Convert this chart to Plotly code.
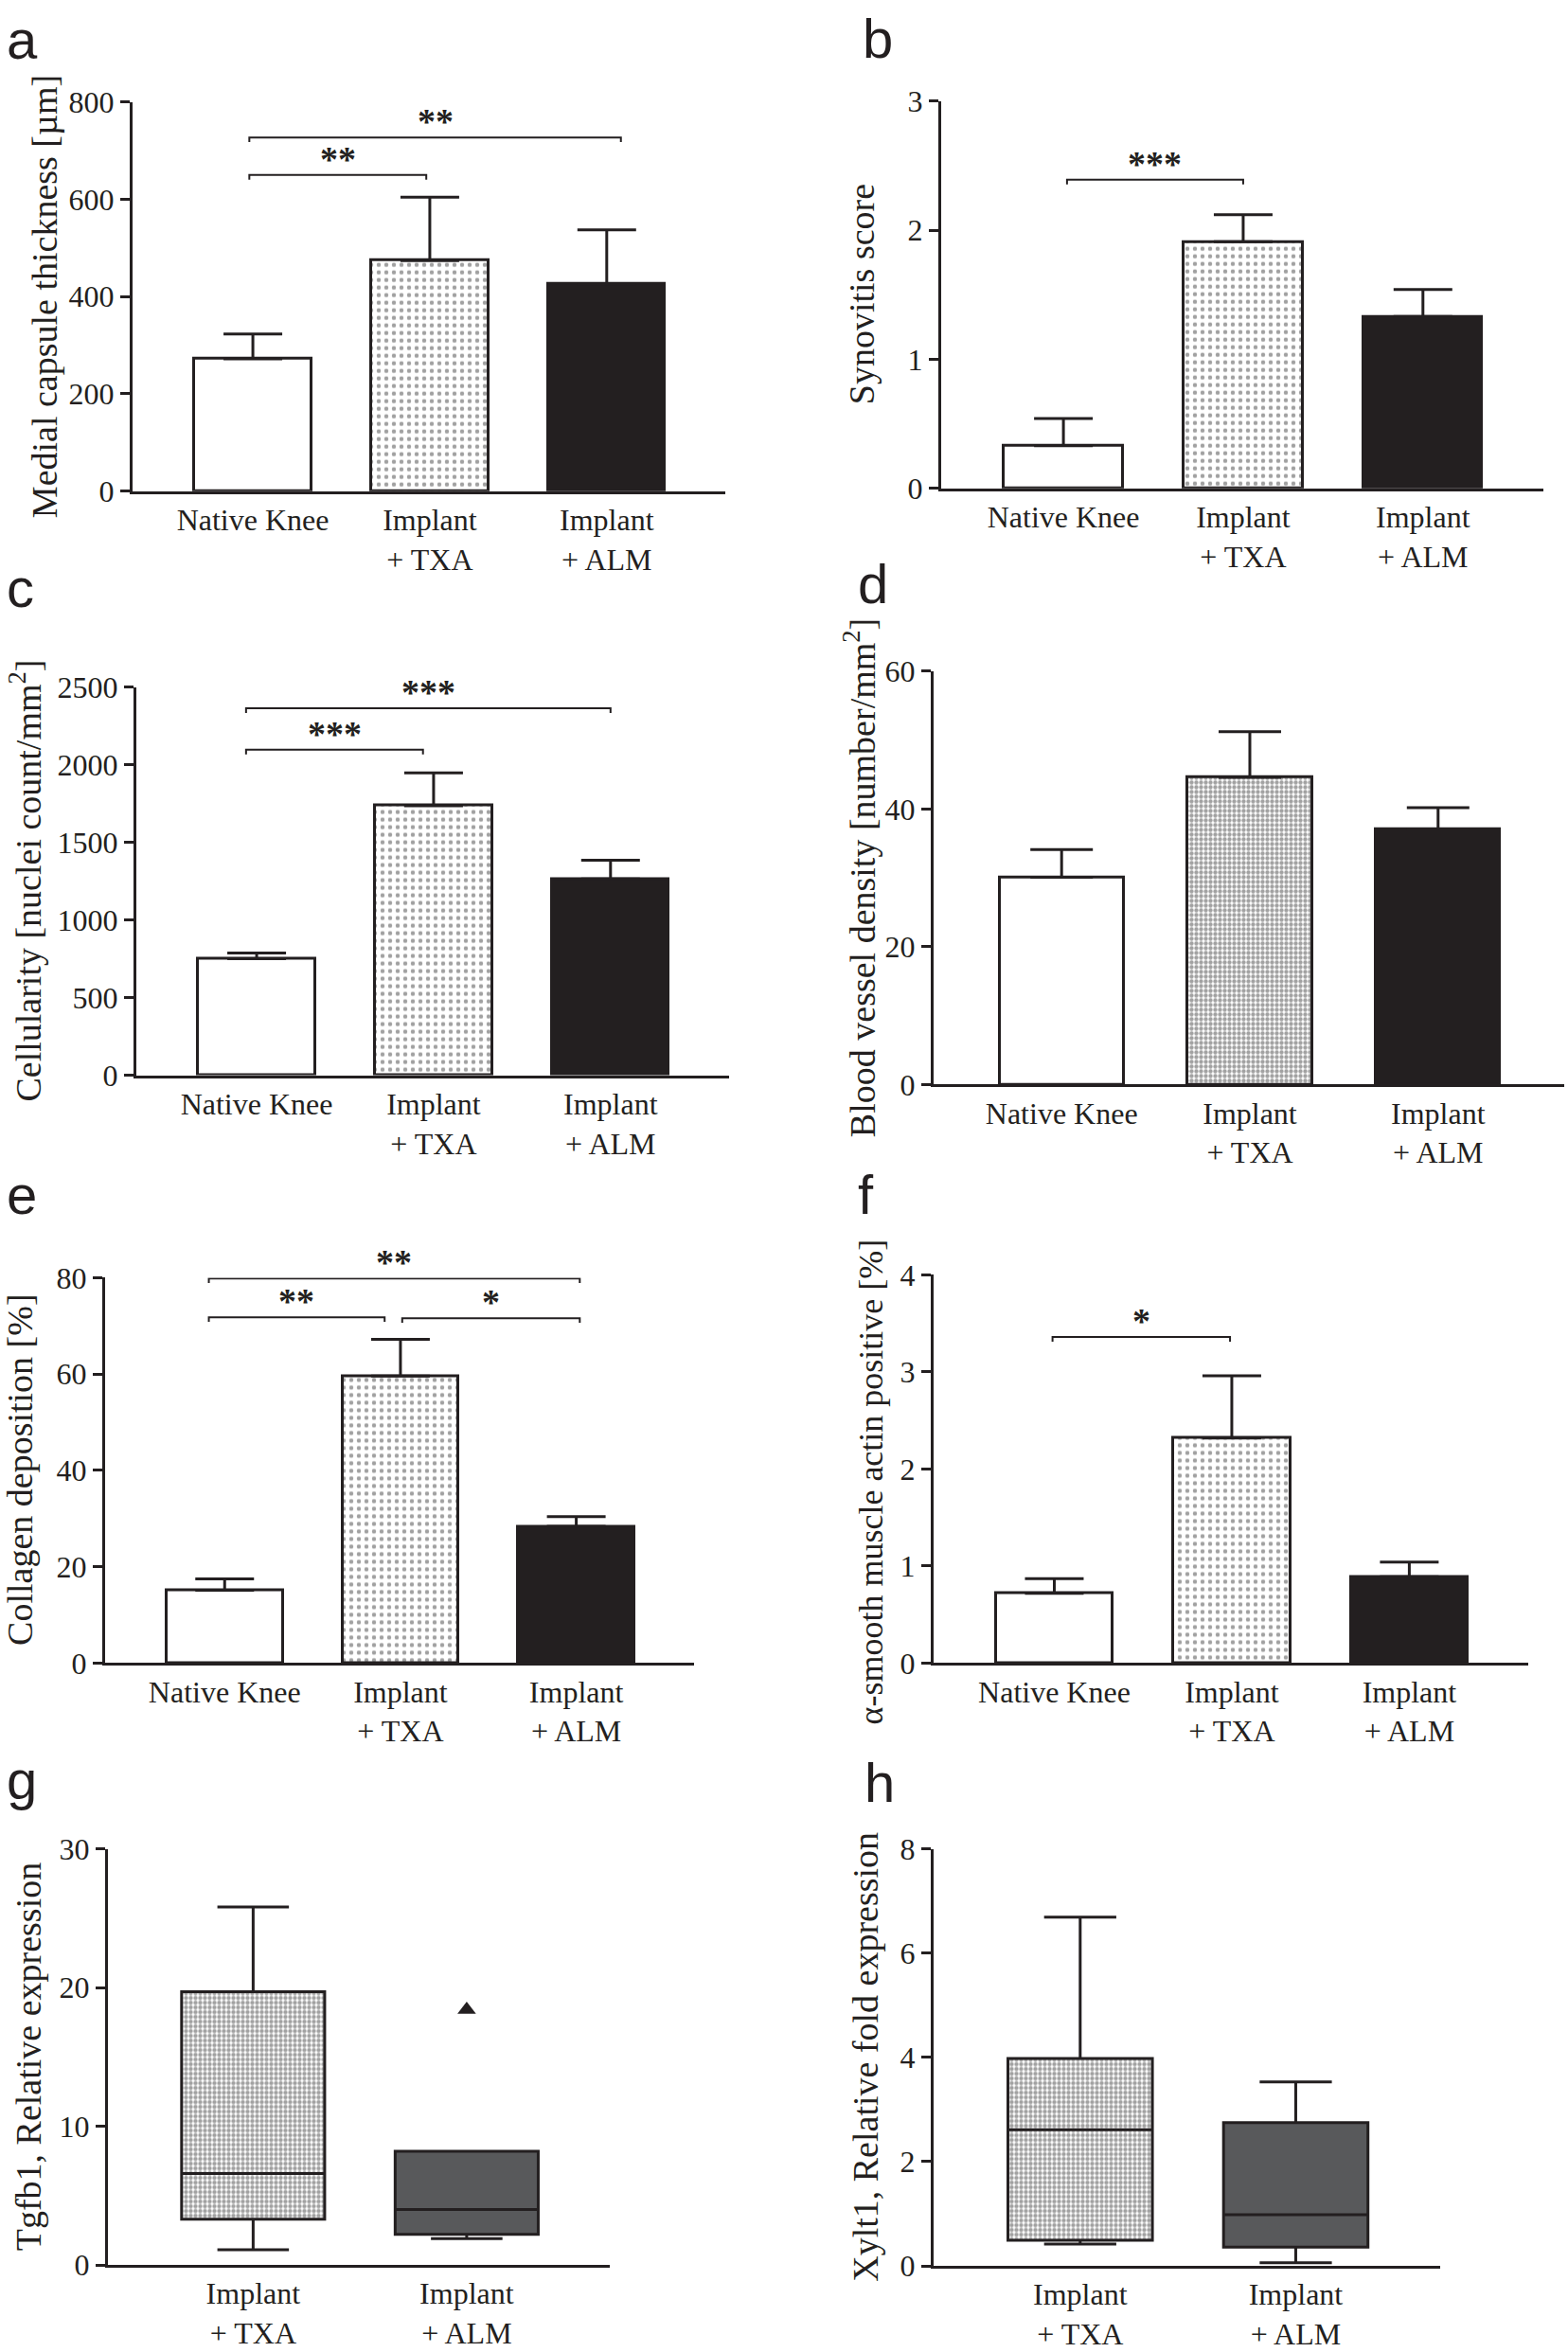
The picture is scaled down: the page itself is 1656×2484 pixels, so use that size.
import plotly.graph_objects as go

W, H = 1656, 2484
INK = "#231f20"
GREY = "#58595b"
SERIF = "Liberation Serif"
SANS = "Liberation Sans"

cats3 = ["Native Knee", "Implant<br>+ TXA", "Implant<br>+ ALM"]
cats2 = ["Implant<br>+ TXA", "Implant<br>+ ALM"]

# bar panels: group means and SEM (upper error bar)
capsule_mean = [272, 474, 426]
capsule_sem = [51, 130, 111]
synovitis_mean = [0.33, 1.91, 1.33]
synovitis_sem = [0.21, 0.21, 0.21]
cellularity_mean = [750, 1735, 1264]
cellularity_sem = [37, 212, 120]
vessel_mean = [30.1, 44.6, 37.1]
vessel_sem = [4.0, 6.6, 3.1]
collagen_mean = [15.1, 59.6, 28.4]
collagen_sem = [2.4, 7.6, 2.0]
sma_mean = [0.72, 2.32, 0.89]
sma_sem = [0.15, 0.64, 0.15]

# significance brackets: (x from, x to, y, label)
capsule_sig = [(-0.02, 0.98, 650, "**"), (-0.02, 2.08, 727, "**")]
synovitis_sig = [(0.02, 1.0, 2.39, "***")]
cellularity_sig = [(-0.06, 0.94, 2096, "***"), (-0.06, 2.0, 2363, "***")]
vessel_sig = []
collagen_sig = [(-0.09, 0.91, 71.8, "**"), (1.01, 2.02, 71.6, "*"), (-0.09, 2.02, 79.85, "**")]
sma_sig = [(-0.01, 0.99, 3.36, "*")]

# box panels: q1, median, q3, lower whisker, upper whisker
tgfb1_q1 = [3.3, 2.2]
tgfb1_med = [6.6, 4.0]
tgfb1_q3 = [19.7, 8.2]
tgfb1_lo = [1.1, 1.9]
tgfb1_hi = [25.8, 8.2]
tgfb1_outlier_x = [1]
tgfb1_outlier_y = [18.4]

xylt1_q1 = [0.49, 0.36]
xylt1_med = [2.61, 0.98]
xylt1_q3 = [3.98, 2.75]
xylt1_lo = [0.42, 0.06]
xylt1_hi = [6.69, 3.53]

bar_panels = [
    dict(letter="a", title="Medial capsule thickness [µm]", ticks=[0, 200, 400, 600, 800],
         mean=capsule_mean, sem=capsule_sem, sig=capsule_sig,
         box=(140, 766, 91, 508), tx=47, lx=6, ly=45, dense=False),
    dict(letter="b", title="Synovitis score", ticks=[0, 1, 2, 3],
         mean=synovitis_mean, sem=synovitis_sem, sig=synovitis_sig,
         box=(994, 1630, 90, 505), tx=910, lx=910, ly=44, dense=False),
    dict(letter="c", title="Cellularity [nuclei count/mm<sup>2</sup>]", ticks=[0, 500, 1000, 1500, 2000, 2500],
         mean=cellularity_mean, sem=cellularity_sem, sig=cellularity_sig,
         box=(144, 770, 718, 1134), tx=27, lx=6, ly=632, dense=False),
    dict(letter="d", title="Blood vessel density [number/mm<sup>2</sup>]", ticks=[0, 20, 40, 60],
         mean=vessel_mean, sem=vessel_sem, sig=vessel_sig,
         box=(986, 1652, 701, 1144), tx=908, lx=905, ly=628, dense=True),
    dict(letter="e", title="Collagen deposition [%]", ticks=[0, 20, 40, 60, 80],
         mean=collagen_mean, sem=collagen_sem, sig=collagen_sig,
         box=(111, 733, 1351, 1764), tx=21, lx=6, ly=1283, dense=False),
    dict(letter="f", title="α-smooth muscle actin positive [%]", ticks=[0, 1, 2, 3, 4],
         mean=sma_mean, sem=sma_sem, sig=sma_sig,
         box=(986, 1614, 1348, 1764), tx=920, lx=905, ly=1283, dense=False,
         tsize=36, tshift=-14),
]

box_panels = [
    dict(letter="g", title="Tgfb1, Relative expression", ticks=[0, 10, 20, 30],
         q1=tgfb1_q1, med=tgfb1_med, q3=tgfb1_q3, lo=tgfb1_lo, hi=tgfb1_hi,
         ox=tgfb1_outlier_x, oy=tgfb1_outlier_y,
         box=(114, 644, 1963, 2409), tx=30, lx=6, ly=1910),
    dict(letter="h", title="Xylt1, Relative fold expression", ticks=[0, 2, 4, 6, 8],
         q1=xylt1_q1, med=xylt1_med, q3=xylt1_q3, lo=xylt1_lo, hi=xylt1_hi,
         ox=[], oy=[],
         box=(986, 1521, 1963, 2410), tx=914, lx=912, ly=1913),
]

fig = go.Figure()
layout = {}
annotations = []
tickfont = dict(family=SERIF, size=32, color=INK)
LETTER_SIZE = 58


def add_axes(n, p, cats):
    x0, x1, ytop, yzero = p["box"]
    xa = "xaxis" if n == 1 else f"xaxis{n}"
    ya = "yaxis" if n == 1 else f"yaxis{n}"
    xr = "x" if n == 1 else f"x{n}"
    yr = "y" if n == 1 else f"y{n}"
    layout[xa] = dict(domain=[x0 / W, x1 / W], anchor=yr, range=[-0.68, len(cats) - 0.33],
                      tickvals=list(range(len(cats))), ticktext=cats, ticks="",
                      showline=True, linecolor=INK, linewidth=3, showgrid=False,
                      zeroline=False, tickfont=tickfont, fixedrange=True)
    layout[ya] = dict(domain=[1 - yzero / H, 1 - ytop / H], anchor=xr,
                      range=[0, p["ticks"][-1]], tickvals=p["ticks"],
                      ticktext=[str(t) for t in p["ticks"]], ticks="outside",
                      ticklen=10, tickwidth=3, tickcolor=INK, showline=True,
                      linecolor=INK, linewidth=3, showgrid=False, zeroline=False,
                      tickfont=tickfont, fixedrange=True)
    # y title
    annotations.append(dict(text=p["title"], textangle=-90, xref="paper", yref=f"{yr} domain",
                            x=p["tx"] / W, y=0.5, xanchor="center", yanchor="middle",
                            yshift=p.get("tshift", 0), showarrow=False,
                            font=dict(family=SERIF, size=p.get("tsize", 38), color=INK)))
    # panel letter (bottom of text box sits a descent below the baseline)
    annotations.append(dict(text=p["letter"], xref="paper", yref="paper",
                            x=p["lx"] / W, y=1 - (p["ly"] + 13) / H, xanchor="left",
                            yanchor="bottom", showarrow=False, borderpad=0,
                            font=dict(family=SANS, size=LETTER_SIZE, color=INK)))
    return xr, yr


n = 0
for p in bar_panels:
    n += 1
    xr, yr = add_axes(n, p, cats3)
    fg_size = 5 if p["dense"] else 8
    solid = 0.6 if p["dense"] else 0.25
    fig.add_trace(go.Bar(
        x=[0, 1, 2], y=p["mean"], width=0.66, xaxis=xr, yaxis=yr,
        marker=dict(color=["white", "white", INK], line=dict(color=INK, width=3),
                    pattern=dict(shape=["", ".", ""], fgcolor=INK, bgcolor="white",
                                 size=fg_size, solidity=solid)),
        error_y=dict(type="data", symmetric=False, array=p["sem"], arrayminus=[0, 0, 0],
                     color=INK, thickness=3, width=33 if p["dense"] else 31),
        showlegend=False, hoverinfo="skip"))
    ymax = p["ticks"][-1]
    drop = 5 / (p["box"][3] - p["box"][2]) * ymax
    for xa_, xb_, yv, lab in p["sig"]:
        fig.add_trace(go.Scatter(
            x=[xa_, xa_, xb_, xb_], y=[yv - drop, yv, yv, yv - drop], mode="lines",
            line=dict(color=INK, width=2), xaxis=xr, yaxis=yr, cliponaxis=False,
            showlegend=False, hoverinfo="skip"))
        annotations.append(dict(text=lab, xref=xr, yref=yr, x=(xa_ + xb_) / 2, y=yv,
                                xanchor="center", yanchor="bottom", yshift=-6,
                                showarrow=False,
                                font=dict(family=SERIF, size=38, color=INK, weight="bold")))

for p in box_panels:
    n += 1
    xr, yr = add_axes(n, p, cats2)
    heights = [b - a for a, b in zip(p["q1"], p["q3"])]
    # patterned fill behind the box outlines
    fig.add_trace(go.Bar(
        x=[0, 1], y=heights, base=p["q1"], width=0.67, xaxis=xr, yaxis=yr,
        marker=dict(color=["white", GREY], line=dict(width=0),
                    pattern=dict(shape=[".", ""], fgcolor=INK, bgcolor="white",
                                 size=5, solidity=0.6)),
        showlegend=False, hoverinfo="skip"))
    fig.add_trace(go.Box(
        x=[0, 1], q1=p["q1"], median=p["med"], q3=p["q3"], lowerfence=p["lo"],
        upperfence=p["hi"], width=0.67, whiskerwidth=0.5, boxpoints=False,
        fillcolor="rgba(0,0,0,0)", line=dict(color=INK, width=3), xaxis=xr, yaxis=yr,
        showlegend=False, hoverinfo="skip"))
    if p["ox"]:
        fig.add_trace(go.Scatter(
            x=p["ox"], y=p["oy"], mode="markers", xaxis=xr, yaxis=yr,
            marker=dict(symbol="triangle-up", size=17, color=INK),
            showlegend=False, hoverinfo="skip"))

fig.update_layout(
    width=W, height=H, margin=dict(l=0, r=0, t=0, b=0),
    paper_bgcolor="white", plot_bgcolor="white", showlegend=False,
    annotations=annotations, bargap=0, **layout)

fig.write_html("out.html", config={"displayModeBar": False},
               post_script="document.body.style.margin = '0';")
